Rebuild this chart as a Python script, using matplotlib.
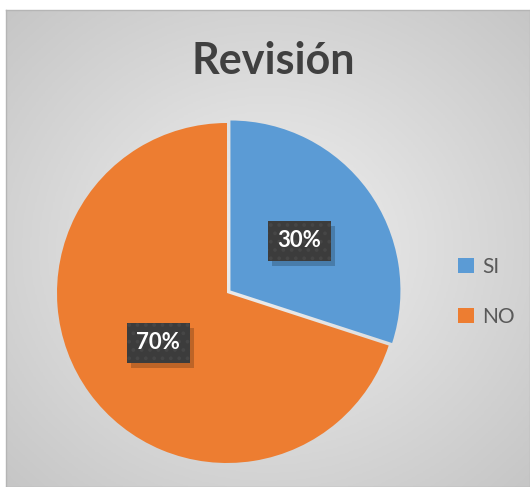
import numpy as np
import matplotlib
matplotlib.use("Agg")
from matplotlib import pyplot as plt
from matplotlib import transforms
from matplotlib.patches import Rectangle

labels = ["SI", "NO"]
values = [30, 70]
colors = ["#5B9BD5", "#ED7D31"]
title = "Revisión"

plt.rcParams['font.family'] = ['Lato', 'DejaVu Sans']
plt.rcParams['hatch.linewidth'] = 1.5

W, H = 530, 487
fig = plt.figure(figsize=(W / 100, H / 100), dpi=100)
fig.patch.set_facecolor("white")

# chart area with radial gray gradient
bg = fig.add_axes([6 / W, 0, 1 - 6 / W, (H - 10) / H])
yy, xx = np.mgrid[-1:1:300j, -1:1:300j]
rr = np.sqrt(xx ** 2 + yy ** 2) / np.sqrt(2)
bg.imshow(rr, cmap=matplotlib.colors.LinearSegmentedColormap.from_list(
    "g", ["#F0F0F0", "#C6C6C6"]), extent=[0, 1, 0, 1], aspect="auto")
bg.set_xticks([])
bg.set_yticks([])
for s in bg.spines.values():
    s.set_color("#B5B5B5")
    s.set_linewidth(1)

fig.text(273 / W, 1 - 61 / H, title, ha="center", va="center",
         fontsize=31, fontweight="bold", color="#404040")

# pie
ax = fig.add_axes([57 / W, (H - 463) / H, 340 / W, 340 / H])
wedges, texts, autotexts = ax.pie(
    values, colors=colors, startangle=90, counterclock=False,
    explode=[0.025, 0], autopct="%1.0f%%", pctdistance=0.5,
    wedgeprops=dict(linewidth=0),
    textprops=dict(color="white", fontsize=16, fontweight="bold"))
ax.set_xlim(-1, 1)
ax.set_ylim(-1, 1)
ax.set_aspect("equal")

# dark label boxes with a soft shadow (sizes in inches around each label)
bw, bh = 0.63, 0.40
for t in autotexts:
    x, y = t.get_position()
    for dx, dy, fc, a, z in [(0.04, -0.05, "black", 0.2, 2), (0, 0, "#3C3C3C", 1, 2.5)]:
        tr = fig.dpi_scale_trans + transforms.ScaledTranslation(x, y, ax.transData)
        box = Rectangle((-bw / 2 + dx, -bh / 2 + dy), bw, bh, transform=tr,
                        facecolor=fc, alpha=a, linewidth=0, zorder=z)
        if fc != "black":
            box.set_hatch("..")
            box.set_edgecolor("#464646")
        ax.add_patch(box)
    t.set_zorder(3)

leg = fig.legend(wedges, labels, loc="center left",
                 bbox_to_anchor=(458 / W, 1 - 292 / H), frameon=False,
                 borderpad=0, borderaxespad=0,
                 fontsize=15, handlelength=0.75, handleheight=0.75,
                 handletextpad=0.4, labelspacing=1.45, labelcolor="#595959")

fig.savefig("out.png", dpi=100)
